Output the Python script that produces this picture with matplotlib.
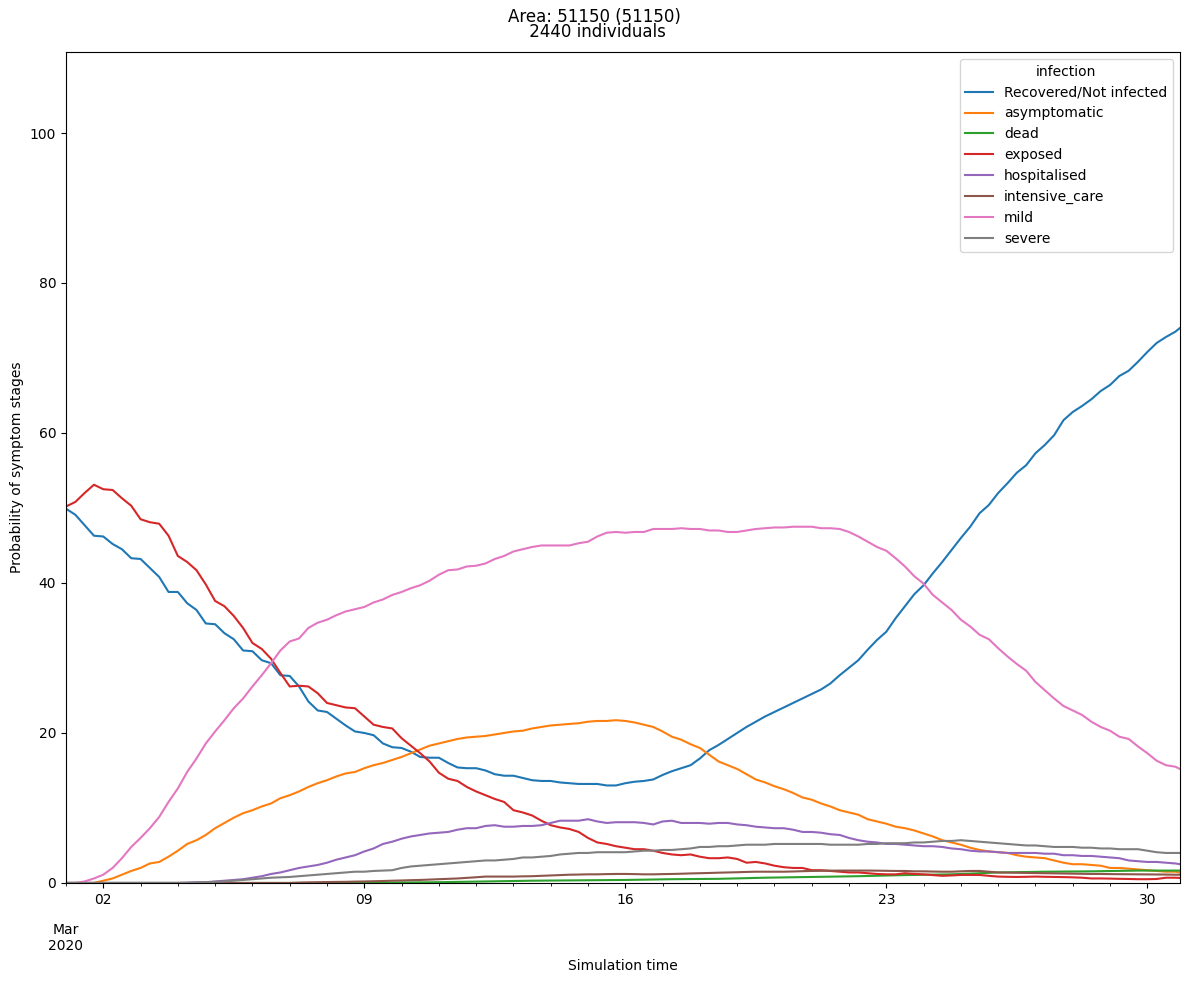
import matplotlib
matplotlib.use("Agg")
import matplotlib.pyplot as plt
import matplotlib.dates as mdates
from matplotlib.ticker import FuncFormatter
import pandas as pd

# 6-hourly readings from 1 Mar 2020 00:00, last point at 30 Mar 21:00
times = pd.date_range("2020-03-01", periods=120, freq="6h").append(
    pd.DatetimeIndex([pd.Timestamp("2020-03-30 21:00")]))

recovered = [
    49.9, 49.1, 47.7, 46.3, 46.2, 45.2, 44.5, 43.3, 43.2, 42.0, 40.8, 38.8, 38.8, 37.3, 36.4, 34.6,
    34.5, 33.3, 32.5, 31.0, 30.9, 29.7, 29.3, 27.7, 27.6, 26.2, 24.2, 23.0, 22.8, 21.9, 21.0,
    20.2, 20.0, 19.7, 18.6, 18.1, 18.0, 17.5, 16.8, 16.7, 16.7, 16.0, 15.4, 15.3, 15.3, 15.0,
    14.5, 14.3, 14.3, 14.0, 13.7, 13.6, 13.6, 13.4, 13.3, 13.2, 13.2, 13.2, 13.0, 13.0, 13.3,
    13.5, 13.6, 13.8, 14.4, 14.9, 15.3, 15.7, 16.6, 17.7, 18.4, 19.2, 20.0, 20.8, 21.5, 22.2,
    22.8, 23.4, 24.0, 24.6, 25.2, 25.8, 26.6, 27.7, 28.7, 29.7, 31.1, 32.4, 33.5, 35.3, 36.9,
    38.5, 39.7, 41.3, 42.8, 44.4, 46.0, 47.5, 49.3, 50.4, 52.0, 53.3, 54.7, 55.7, 57.3, 58.4,
    59.7, 61.7, 62.8, 63.6, 64.5, 65.6, 66.4, 67.6, 68.3, 69.5, 70.8, 72.0, 72.8, 73.5, 74.0]
asymptomatic = [
    0, 0, 0, 0, 0.3, 0.6, 1.1, 1.6, 2.0, 2.6, 2.8, 3.5, 4.3, 5.2, 5.7, 6.4, 7.3, 8.0, 8.7, 9.3,
    9.7, 10.2, 10.6, 11.3, 11.7, 12.2, 12.8, 13.3, 13.7, 14.2, 14.6,
    14.8, 15.3, 15.7, 16.0, 16.4, 16.8, 17.3, 17.8, 18.3, 18.6, 18.9, 19.2, 19.4, 19.5, 19.6,
    19.8, 20.0, 20.2, 20.3, 20.6, 20.8, 21.0, 21.1, 21.2, 21.3, 21.5, 21.6, 21.6, 21.7, 21.6,
    21.4, 21.1, 20.8, 20.2, 19.5, 19.1, 18.5, 18.0, 17.1, 16.2, 15.7, 15.2, 14.5, 13.8, 13.4,
    12.9, 12.5, 12.0, 11.4, 11.1, 10.6, 10.2, 9.7, 9.4, 9.1, 8.5, 8.2, 7.9, 7.5, 7.3,
    7.0, 6.6, 6.2, 5.7, 5.4, 5.1, 4.7, 4.4, 4.2, 4.1, 4.0, 3.7, 3.5, 3.4, 3.3, 3.0, 2.7, 2.5,
    2.5, 2.4, 2.3, 2.0, 2.0, 1.9, 1.8, 1.7, 1.6, 1.5, 1.5, 1.4]
dead = [0] * 35 + [
    0.05, 0.06, 0.07, 0.08, 0.09, 0.1, 0.12, 0.14, 0.16, 0.18, 0.2, 0.22, 0.24, 0.26, 0.28,
    0.3, 0.31, 0.32, 0.33, 0.34, 0.35, 0.36, 0.37, 0.38, 0.39, 0.4,
    0.42, 0.44, 0.46, 0.48, 0.5, 0.51, 0.52, 0.53, 0.54, 0.55, 0.58, 0.61, 0.64, 0.67, 0.7,
    0.72, 0.74, 0.76, 0.78, 0.8, 0.82, 0.84, 0.86, 0.88, 0.9, 0.93, 0.96, 0.99, 1.02, 1.05,
    1.07, 1.09, 1.11, 1.13, 1.15, 1.2, 1.25, 1.3, 1.35, 1.4, 1.42, 1.44, 1.46, 1.48, 1.5,
    1.51, 1.52, 1.53, 1.54, 1.55, 1.57, 1.59, 1.61, 1.63, 1.65, 1.65, 1.65, 1.65, 1.65, 1.65]
exposed = [
    50.2, 50.8, 52.0, 53.1, 52.5, 52.4, 51.3, 50.3, 48.5, 48.1, 47.9, 46.3, 43.6, 42.8, 41.7,
    39.8, 37.6, 36.9, 35.6, 34.0, 32.0, 31.2, 29.9, 28.0, 26.2, 26.3, 26.2, 25.3, 24.0, 23.7, 23.4,
    23.3, 22.2, 21.1, 20.8, 20.6, 19.3, 18.3, 17.3, 16.2, 14.7, 13.9, 13.6, 12.8, 12.2, 11.7,
    11.2, 10.8, 9.7, 9.4, 9.0, 8.3, 7.7, 7.4, 7.2, 6.8, 6.0, 5.4, 5.2, 4.9, 4.7,
    4.5, 4.5, 4.3, 4.0, 3.8, 3.7, 3.8, 3.5, 3.3, 3.3, 3.4, 3.2, 2.7, 2.8, 2.6, 2.3, 2.1, 2.0,
    2.0, 1.7, 1.7, 1.6, 1.5, 1.4, 1.4, 1.3, 1.2, 1.15, 1.15, 1.3,
    1.2, 1.15, 1.05, 0.95, 1.0, 1.07, 1.07, 1.07, 0.95, 0.85, 0.82, 0.8, 0.82, 0.85, 0.82,
    0.8, 0.78, 0.75, 0.7, 0.6, 0.6, 0.58, 0.55, 0.53, 0.5, 0.5, 0.53, 0.7, 0.7, 0.67]
hospitalised = [0] * 13 + [
    0.05, 0.1, 0.1, 0.2, 0.3, 0.4, 0.5, 0.7, 0.9, 1.2, 1.4, 1.7, 2.0, 2.2, 2.4, 2.7, 3.1, 3.4,
    3.7, 4.2, 4.6, 5.2, 5.5, 5.9, 6.2, 6.4, 6.6, 6.7, 6.8, 7.1, 7.3, 7.3, 7.6, 7.7, 7.5, 7.5,
    7.6, 7.6, 7.7, 8.0, 8.3, 8.3, 8.3, 8.5, 8.2, 8.0, 8.1, 8.1,
    8.1, 8.0, 7.8, 8.2, 8.3, 8.0, 8.0, 8.0, 7.9, 8.0, 8.0, 7.8, 7.7, 7.5, 7.4, 7.3, 7.3, 7.1,
    6.8, 6.8, 6.7, 6.5, 6.4, 6.0, 5.7, 5.5, 5.4, 5.2, 5.2, 5.1,
    5.0, 4.9, 4.9, 4.8, 4.6, 4.5, 4.3, 4.2, 4.2, 4.1, 4.0, 4.0, 4.0, 4.0, 3.9, 3.9, 3.7, 3.7,
    3.6, 3.6, 3.5, 3.4, 3.3, 3.0, 2.9, 2.8, 2.8, 2.7, 2.6, 2.5]
intensive_care = [0] * 25 + [
    0.05, 0.08, 0.1, 0.12, 0.14, 0.15,
    0.18, 0.2, 0.23, 0.26, 0.3, 0.33, 0.37, 0.4, 0.45, 0.5, 0.55, 0.6, 0.68, 0.76, 0.85, 0.85,
    0.85, 0.85, 0.88, 0.9, 0.95, 1.0, 1.05, 1.1, 1.12, 1.15, 1.15, 1.18, 1.2, 1.2,
    1.18, 1.15, 1.15, 1.18, 1.2, 1.23, 1.27, 1.3, 1.33, 1.37, 1.4, 1.43, 1.47, 1.5, 1.5, 1.5,
    1.5, 1.53, 1.57, 1.6, 1.62, 1.64, 1.65, 1.65, 1.65, 1.65, 1.64, 1.62, 1.6, 1.6,
    1.55, 1.55, 1.52, 1.5, 1.5, 1.55, 1.6, 1.6, 1.5, 1.4, 1.38, 1.36, 1.34, 1.32, 1.3, 1.28,
    1.26, 1.24, 1.22, 1.2, 1.2, 1.18, 1.17, 1.16, 1.15, 1.14, 1.13, 1.12, 1.1, 1.1]
mild = [
    0, 0, 0.2, 0.6, 1.1, 2.0, 3.3, 4.8, 6.0, 7.3, 8.8, 10.8, 12.6, 14.8, 16.6, 18.6, 20.2, 21.7,
    23.3, 24.6, 26.2, 27.7, 29.3, 31.0, 32.2, 32.6, 34.0, 34.7, 35.1, 35.7, 36.2,
    36.5, 36.8, 37.4, 37.8, 38.4, 38.8, 39.3, 39.7, 40.3, 41.1, 41.7, 41.8, 42.2, 42.3, 42.6,
    43.2, 43.6, 44.2, 44.5, 44.8, 45.0, 45.0, 45.0, 45.0, 45.3, 45.5, 46.2, 46.7, 46.8, 46.7,
    46.8, 46.8, 47.2, 47.2, 47.2, 47.3, 47.2, 47.2, 47.0, 47.0, 46.8, 46.8, 47.0, 47.2, 47.3,
    47.4, 47.4, 47.5, 47.5, 47.5, 47.3, 47.3, 47.2, 46.8, 46.2, 45.5, 44.8, 44.3, 43.3, 42.2,
    40.9, 39.9, 38.4, 37.4, 36.4, 35.1, 34.2, 33.1, 32.5, 31.3, 30.2, 29.2, 28.3, 26.8, 25.7,
    24.6, 23.6, 23.0, 22.4, 21.5, 20.8, 20.3, 19.5, 19.2, 18.2, 17.3, 16.3, 15.7, 15.5, 15.2]
severe = [0] * 14 + [
    0.05, 0.1, 0.15, 0.2, 0.3, 0.4, 0.5, 0.6, 0.7, 0.75, 0.8, 0.9, 1.0, 1.1, 1.2, 1.3, 1.4,
    1.5, 1.5, 1.6, 1.65, 1.7, 2.0, 2.2, 2.3, 2.4, 2.5, 2.6, 2.7, 2.8, 2.9, 3.0, 3.0, 3.1, 3.2,
    3.4, 3.4, 3.5, 3.6, 3.8, 3.9, 4.0, 4.0, 4.1, 4.1, 4.1, 4.1,
    4.2, 4.3, 4.3, 4.4, 4.4, 4.5, 4.6, 4.8, 4.8, 4.9, 4.9, 5.0, 5.1, 5.1, 5.1, 5.2, 5.2, 5.2,
    5.2, 5.2, 5.2, 5.1, 5.1, 5.1, 5.1, 5.2, 5.2, 5.3, 5.3, 5.3,
    5.4, 5.4, 5.5, 5.6, 5.6, 5.7, 5.6, 5.5, 5.4, 5.3, 5.2, 5.1, 5.0, 5.0, 4.9, 4.8, 4.8, 4.8,
    4.7, 4.7, 4.6, 4.6, 4.5, 4.5, 4.5, 4.3, 4.1, 4.0, 4.0, 4.0]

df = pd.DataFrame({
    "Recovered/Not infected": recovered,
    "asymptomatic": asymptomatic,
    "dead": dead,
    "exposed": exposed,
    "hospitalised": hospitalised,
    "intensive_care": intensive_care,
    "mild": mild,
    "severe": severe,
}, index=times)

fig, ax = plt.subplots(figsize=(11.89, 9.85), dpi=100)
for col in df.columns:
    ax.plot(df.index, df[col], label=col)

ax.set_xlim(times[0], times[-1])
ax.set_ylim(0, 110.8)

ax.xaxis.set_major_locator(mdates.WeekdayLocator(byweekday=mdates.MO))
ax.xaxis.set_major_formatter(mdates.DateFormatter("%d"))
ax.xaxis.set_minor_locator(mdates.DayLocator())


def month_label(x, pos):
    d = mdates.num2date(x)
    if d.day == 1:
        return d.strftime("\n\n%b\n%Y")
    return ""


ax.xaxis.set_minor_formatter(FuncFormatter(month_label))

ax.set_xlabel("Simulation time")
ax.set_ylabel("Probability of symptom stages")
ax.legend(title="infection", loc="upper right")
fig.suptitle("Area: 51150 (51150)\n 2440 individuals", y=0.992, linespacing=0.8)

fig.subplots_adjust(left=0.0555, right=0.9924, top=0.9472, bottom=0.1036)
fig.savefig("out.png", dpi=100)
